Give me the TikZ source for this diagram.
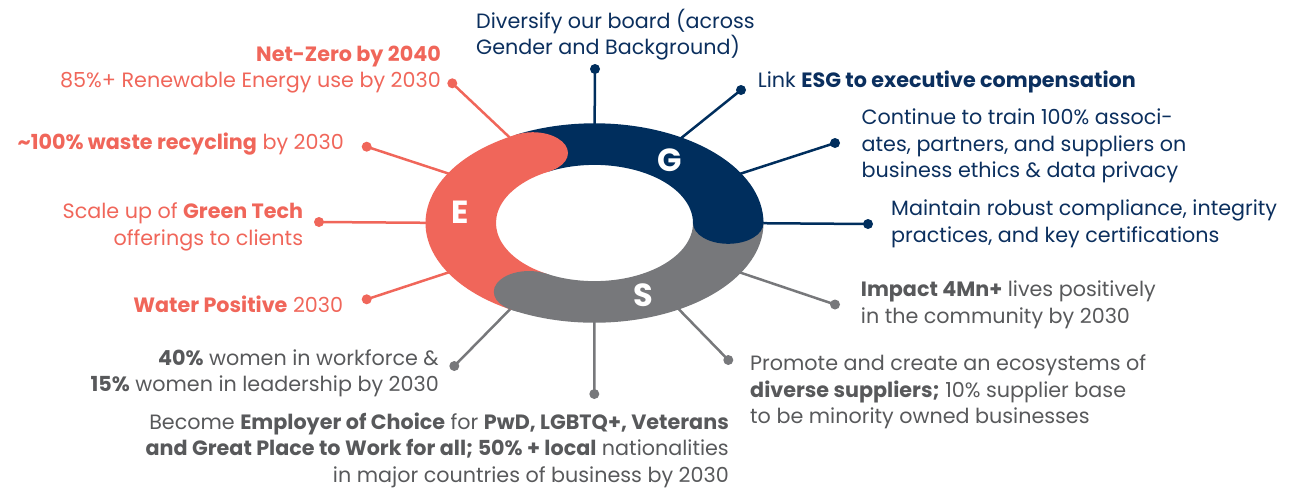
\documentclass[tikz,border=0pt]{standalone}
\usepackage{fontspec}
\setmainfont{Poppins}
\definecolor{ecol}{HTML}{F0665A}
\definecolor{gcol}{HTML}{002E5D}
\definecolor{scol}{HTML}{77787B}
\definecolor{stxt}{HTML}{58595B}
\definecolor{gtxt}{HTML}{0B2F5E}
\tikzset{
  dot/.style={circle, fill=#1, inner sep=0pt, minimum size=10pt},
  conn/.style={line width=2.5pt, draw=#1},
  txt/.style={inner sep=0pt, font=\fontsize{20.7}{26.5}\selectfont},
  etext/.style={txt, text=ecol, align=right, anchor=base east},
  ntext/.style={txt, text=gtxt, align=left, anchor=base west},
  stextL/.style={txt, text=stxt, align=left, anchor=base west},
  stextR/.style={txt, text=stxt, align=right, anchor=base east},
  ringlbl/.style={text=white, font=\fontsize{32}{32}\selectfont\bfseries},
}
\begin{document}
\begin{tikzpicture}[x=1pt, y=1pt]
\useasboundingbox (0,0) rectangle (1309,-488);

% anchors inside the ring
\begin{scope}[shift={(594.5,-223)}, yscale=0.59]
  \foreach \a/\n in {90/a90,60/a60,30/a30,0/a0,-30/am30,-60/am60,-90/am90,-120/am120,120/a120,150/a150,180/a180,210/a210}
    \coordinate (\n) at (\a:140);
\end{scope}

% dots
\node[dot=gcol] (d90) at (595,-69) {};
\node[dot=gcol] (d60) at (741,-90) {};
\node[dot=gcol] (d30) at (835,-143) {};
\node[dot=gcol] (d0) at (868,-224) {};
\node[dot=scol] (dm30) at (835,-304.5) {};
\node[dot=scol] (dm60) at (728.3,-360) {};
\node[dot=scol] (dm90) at (594.3,-394) {};
\node[dot=scol] (dm120) at (454.3,-366) {};
\node[dot=ecol] (d120) at (452.3,-83.3) {};
\node[dot=ecol] (d150) at (366.7,-146.7) {};
\node[dot=ecol] (d180) at (319,-222) {};
\node[dot=ecol] (d210) at (366.7,-299.3) {};

% connectors
\draw[conn=gcol] (a90) -- (d90.center);
\draw[conn=gcol] (a60) -- (d60.center);
\draw[conn=gcol] (a30) -- (d30.center);
\draw[conn=gcol] (a0) -- (d0.center);
\draw[conn=scol] (am30) -- (dm30.center);
\draw[conn=scol] (am60) -- (dm60.center);
\draw[conn=scol] (am90) -- (dm90.center);
\draw[conn=scol] (am120) -- (dm120.center);
\draw[conn=ecol] (a120) -- (d120.center);
\draw[conn=ecol] (a150) -- (d150.center);
\draw[conn=ecol] (a180) -- (d180.center);
\draw[conn=ecol] (a210) -- (d210.center);

% ring
\begin{scope}[shift={(594.5,-223)}, yscale=0.59]
  \fill[ecol] (117.5:169) arc[start angle=117.5, end angle=240.7, radius=169]
     -- (240.7:98.5) arc[start angle=240.7, end angle=117.5, radius=98.5] -- cycle;
  \fill[gcol] (0:169) arc[start angle=0, end angle=117.5, radius=169]
     -- (117.5:98.5) arc[start angle=117.5, end angle=0, radius=98.5] -- cycle;
  \fill[scol] (-119.3:169) arc[start angle=-119.3, end angle=0, radius=169]
     -- (0:98.5) arc[start angle=0, end angle=-119.3, radius=98.5] -- cycle;
  \fill[ecol] (117.5:133.75) circle[radius=35.25];
  \fill[gcol] (0:133.75) circle[radius=35.25];
  \fill[scol] (-119.3:133.75) circle[radius=35.25];
\end{scope}

\node[ringlbl] (E) at (460,-212) {E};
\node[ringlbl] (G) at (670,-160) {G};
\node[ringlbl] (S) at (643,-295) {S};

% texts (anchored at the baseline of their last line)
\node[ntext] (t90) at (476,-54.5) {Diversify our board (across\\Gender and Background)};
\node[ntext] (t60) at (757.7,-87.3) {Link \textbf{ESG to executive compensation}};
\node[ntext] (t30) at (861.5,-177.5) {Continue to train 100\% associ-\\ates, partners, and suppliers on\\business ethics \& data privacy};
\node[ntext] (t0) at (891,-242) {Maintain robust compliance, integrity\\practices, and key certifications};
\node[stextL] (tm30) at (860.7,-323) {\textbf{Impact 4Mn+} lives positively\\in the community by 2030};
\node[stextL] (tm60) at (750,-423.5) {Promote and create an ecosystems of\\\textbf{diverse suppliers;} 10\% supplier base\\to be minority owned businesses};
\node[stextR] (tm90) at (729,-482) {Become \textbf{Employer of Choice} for \textbf{PwD, LGBTQ+, Veterans}\\\textbf{and Great Place to Work for all; 50\% + local} nationalities\\in major countries of business by 2030};
\node[stextR] (tm120) at (439,-391.5) {\textbf{40\%} women in workforce \&\\\textbf{15\%} women in leadership by 2030};
\node[etext] (t120) at (441,-87.5) {\textbf{Net-Zero by 2040}\\85\%+ Renewable Energy use by 2030};
\node[etext] (t150) at (344,-149) {\textbf{\textasciitilde100\% waste recycling} by 2030};
\node[etext] (t180) at (303.3,-245) {Scale up of \textbf{Green Tech}\\offerings to clients};
\node[etext] (t210) at (343.3,-312.7) {\textbf{Water Positive} 2030};
\end{tikzpicture}
\end{document}
